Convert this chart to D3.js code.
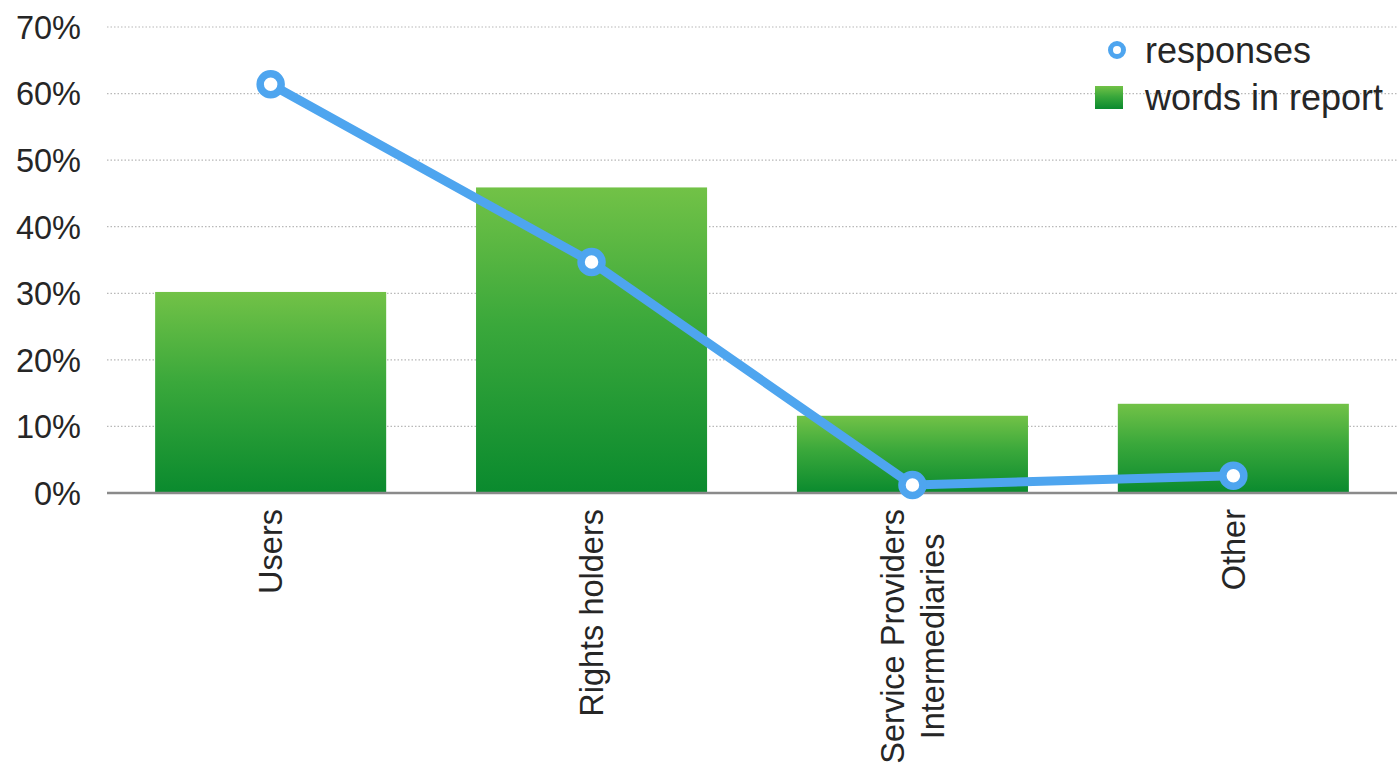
<!DOCTYPE html>
<html>
<head>
<meta charset="utf-8">
<script src="https://cdn.jsdelivr.net/npm/d3@7"></script>
<style>
  html, body { margin: 0; padding: 0; background: #ffffff; }
  svg { display: block; }
  text { font-family: "Liberation Sans", Helvetica, Arial, sans-serif; fill: #262626; }
</style>
</head>
<body>
<svg id="chart" width="1397" height="766"></svg>
<script>
// Stakeholder groups (multi-line labels split on "\n")
const categories = ["Users", "Rights holders", "Service Providers\nIntermediaries", "Other"];
// Share of words in the report per group
const wordsInReport = [0.302, 0.459, 0.116, 0.134];
// Share of consultation responses per group
const responses = [0.614, 0.347, 0.012, 0.026];
// Y axis ticks
const yTicks = [0, 0.1, 0.2, 0.3, 0.4, 0.5, 0.6, 0.7];
const seriesNames = ["responses", "words in report"];

const svg = d3.select("#chart");
const plot = { left: 107, right: 1397, top: 27, bottom: 493 };

const x = d3.scaleBand()
  .domain(categories)
  .range([plot.left, plot.right])
  .paddingInner(0.28)
  .paddingOuter(0.15);

const y = d3.scaleLinear().domain([0, 0.7]).range([plot.bottom, plot.top]);

// Bar gradient: light green at the top, deep green at the base
const defs = svg.append("defs");
const grad = defs.append("linearGradient")
  .attr("id", "barGrad").attr("x1", 0).attr("y1", 0).attr("x2", 0).attr("y2", 1);
grad.append("stop").attr("offset", "0%").attr("stop-color", "#72c247");
grad.append("stop").attr("offset", "45%").attr("stop-color", "#3aa83b");
grad.append("stop").attr("offset", "100%").attr("stop-color", "#0a8a2e");

// Dotted gridlines
svg.append("g")
  .attr("class", "grid")
  .selectAll("line")
  .data(yTicks.filter(d => d > 0))
  .join("line")
  .attr("x1", plot.left).attr("x2", plot.right)
  .attr("y1", d => y(d)).attr("y2", d => y(d))
  .attr("stroke", "#b8b8b8")
  .attr("stroke-width", 1.2)
  .attr("stroke-dasharray", "1.5,2");

// Y axis labels
const yAxis = d3.axisLeft(y)
  .tickValues(yTicks)
  .tickFormat(d3.format(".0%"))
  .tickSize(0)
  .tickPadding(0);

const yG = svg.append("g")
  .attr("transform", "translate(81,0)")
  .call(yAxis);
yG.select(".domain").remove();
yG.selectAll("text")
  .attr("font-size", 32.5)
  .attr("font-family", "Liberation Sans, Helvetica, Arial, sans-serif")
  .attr("fill", "#262626")
  .attr("dy", "0.35em");

// Bars
svg.append("g")
  .selectAll("rect")
  .data(categories)
  .join("rect")
  .attr("x", d => x(d))
  .attr("width", x.bandwidth())
  .attr("y", (d, i) => y(wordsInReport[i]))
  .attr("height", (d, i) => y(0) - y(wordsInReport[i]))
  .attr("fill", "url(#barGrad)");

// Baseline
svg.append("line")
  .attr("x1", plot.left).attr("x2", plot.right)
  .attr("y1", y(0)).attr("y2", y(0))
  .attr("stroke", "#8a8a8a")
  .attr("stroke-width", 2.5);

// Responses line
const lineColor = "#4ea5ef";
const pts = categories.map((c, i) => [x(c) + x.bandwidth() / 2, y(responses[i])]);
svg.append("path")
  .attr("d", d3.line()(pts))
  .attr("fill", "none")
  .attr("stroke", lineColor)
  .attr("stroke-width", 9)
  .attr("stroke-linejoin", "round");

svg.append("g")
  .selectAll("circle")
  .data(pts)
  .join("circle")
  .attr("cx", d => d[0])
  .attr("cy", d => d[1])
  .attr("r", 10.5)
  .attr("fill", "#ffffff")
  .attr("stroke", lineColor)
  .attr("stroke-width", 7.5);

// Category labels, rotated, ending just below the baseline
const labelG = svg.append("g");
categories.forEach(c => {
  const lines = c.split("\n");
  const g = labelG.append("g")
    .attr("transform", `translate(${x(c) + x.bandwidth() / 2},${y(0) + 16}) rotate(-90)`);
  const texts = lines.map((ln, i) => g.append("text")
    .attr("font-size", 32.5)
    .attr("y", (i - (lines.length - 1) / 2) * 40)
    .attr("dy", "0.35em")
    .text(ln));
  const maxLen = d3.max(texts, t => t.node().getComputedTextLength());
  texts.forEach(t => {
    if (lines.length === 1) {
      t.attr("text-anchor", "end").attr("x", 0);
    } else {
      t.attr("text-anchor", "middle").attr("x", -maxLen / 2);
    }
  });
});

// Legend
const legend = svg.append("g");
legend.append("circle")
  .attr("cx", 1117).attr("cy", 50).attr("r", 6.5)
  .attr("fill", "#fff").attr("stroke", lineColor).attr("stroke-width", 5);
legend.append("text")
  .attr("x", 1145).attr("y", 50).attr("dy", "0.35em")
  .attr("font-size", 36)
  .text(seriesNames[0]);
legend.append("rect")
  .attr("x", 1095).attr("y", 86).attr("width", 28).attr("height", 23)
  .attr("fill", "url(#barGrad)");
legend.append("text")
  .attr("x", 1145).attr("y", 97).attr("dy", "0.35em")
  .attr("font-size", 36)
  .text(seriesNames[1]);
</script>
</body>
</html>
